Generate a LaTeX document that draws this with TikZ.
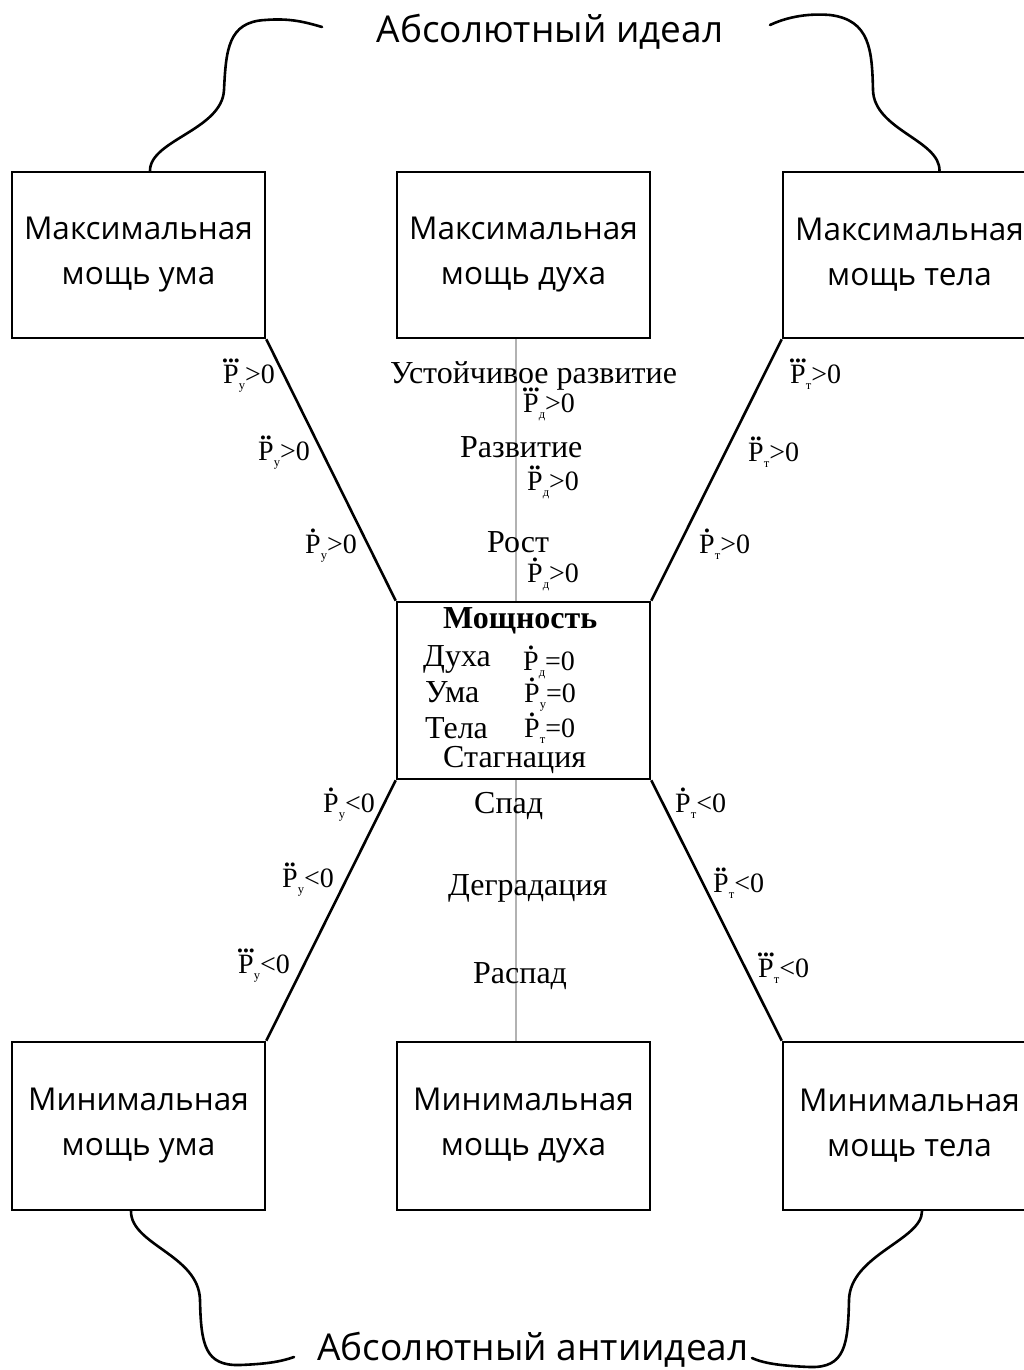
\documentclass[tikz,border=0pt]{standalone}
\usepackage{fontspec}
\usepackage{graphicx}
\setmainfont{Liberation Serif}
\newfontfamily\handfont{Open Sans}
\usetikzlibrary{positioning}

% P with dots on top, a small index and the relation
\newcommand{\Pd}[3]{\ooalign{P\cr\hidewidth\raisebox{.6em}{\scalebox{.6}{#1}}\hidewidth\cr}\raisebox{-.22em}{\scalebox{.45}{#2}}#3}

\begin{document}
\begin{tikzpicture}[x=1pt, y=-1pt,
    box/.style={draw, line width=2.6pt, minimum width=253pt, minimum height=166pt,
                inner sep=0pt, align=center, font=\handfont\fontsize{31.5}{45}\selectfont},
    word/.style={anchor=base west, inner sep=0pt, font=\fontsize{32}{36}\selectfont},
    deriv/.style={anchor=base west, inner sep=0pt, font=\fontsize{28}{30}\selectfont},
    title/.style={anchor=base, inner sep=0pt, font=\handfont\fontsize{37}{40}\selectfont},
    link/.style={line width=2.6pt},
    axis/.style={line width=2pt, color=black!30},
    brace/.style={line width=2.6pt, line cap=round}]
    \useasboundingbox (0,0) rectangle (1024,1370);

    % boxes
    \node[box] (maxum)   at (138.5,255) {Максимальная\\мощь ума};
    \node[box] (maxduh)  at (523.5,255) {Максимальная\\мощь духа};
    \node[box] (maxtelo) at (909.5,255) {Максимальная\\мощь тела};
    \node[box, minimum height=177pt] (power) at (523.5,690.5) {};
    \node[box, minimum height=168pt] (minum)   at (138.5,1126) {Минимальная\\мощь ума};
    \node[box, minimum height=168pt] (minduh)  at (523.5,1126) {Минимальная\\мощь духа};
    \node[box, minimum height=168pt] (mintelo) at (909.5,1126) {Минимальная\\мощь тела};

    % lines
    \draw[axis] ([xshift=-8pt]maxduh.south) -- ([xshift=-8pt]power.north);
    \draw[axis] ([xshift=-8pt]power.south) -- ([xshift=-8pt]minduh.north);
    \draw[link] (maxum.south east) -- (power.north west);
    \draw[link] (maxtelo.south west) -- (power.north east);
    \draw[link] (power.south west) -- (minum.north east);
    \draw[link] (power.south east) -- (mintelo.north west);

    % titles and braces
    \node[title] (ideal) at (550,43) {Абсолютный идеал};
    \node[title] (antiideal) at (533,1360) {Абсолютный антиидеал};
    \draw[brace] ([xshift=11.5pt]maxum.north) .. controls (150,140) and (222,130) .. (224,90)
        .. controls (226,50) and (228,22) .. (265,20) .. controls (290,18) and (305,22) .. (322,27);
    \draw[brace] ([xshift=30pt]maxtelo.north) .. controls (940,140) and (874,130) .. (873,90)
        .. controls (872,50) and (870,20) .. (830,15) .. controls (805,13) and (785,18) .. (770,25);
    \draw[brace] ([xshift=-7.5pt]minum.south) .. controls (131,1245) and (199,1255) .. (200,1300)
        .. controls (201,1345) and (205,1366) .. (240,1365) .. controls (265,1364) and (280,1362) .. (294,1357);
    \draw[brace] ([xshift=12.5pt]mintelo.south) .. controls (922,1240) and (850,1255) .. (849,1300)
        .. controls (848,1345) and (845,1368) .. (810,1367) .. controls (785,1366) and (765,1364) .. (752,1358);

    % middle column
    \node[word] (sustain) at (390,383) {Устойчивое развитие};
    \node[word] (develop) at (460,457) {Развитие};
    \node[word] (growth)  at (487,552) {Рост};
    \node[word, font=\fontsize{32}{36}\selectfont\bfseries] (power title) at (443,628) {Мощность};
    \node[word] (duh)  at (423,666) {Духа};
    \node[word] (um)   at (425,702) {Ума};
    \node[word] (telo) at (425,738) {Тела};
    \node[word] (stag) at (443,767) {Стагнация};
    \node[word] (fall)    at (474,813) {Спад};
    \node[word] (degrade) at (448,895) {Деградация};
    \node[word] (decay)   at (473,983) {Распад};

    \node[deriv] (pd0) at (523,670) {\Pd{•}{д}{=0}};
    \node[deriv] (pu0) at (524,702) {\Pd{•}{у}{=0}};
    \node[deriv] (pt0) at (524,737) {\Pd{•}{т}{=0}};

    % derivative labels
    \foreach \dd/\xx/\yy [count=\i] in {•••/523/412, ••/527/490, •/527/582}
        \node[deriv] (duh\i) at (\xx,\yy) {\Pd{\dd}{д}{>0}};
    \foreach \dd/\xx/\yy [count=\i] in {•••/223/383, ••/258/460, •/305/553}
        \node[deriv] (umup\i) at (\xx,\yy) {\Pd{\dd}{у}{>0}};
    \foreach \dd/\xx/\yy [count=\i] in {•••/790/383, ••/748/461, •/699/553}
        \node[deriv] (teloup\i) at (\xx,\yy) {\Pd{\dd}{т}{>0}};
    \foreach \dd/\xx/\yy [count=\i] in {•/323/812, ••/282/887, •••/238/973}
        \node[deriv] (umdown\i) at (\xx,\yy) {\Pd{\dd}{у}{<0}};
    \foreach \dd/\xx/\yy [count=\i] in {•/675/812, ••/713/892, •••/758/977}
        \node[deriv] (telodown\i) at (\xx,\yy) {\Pd{\dd}{т}{<0}};
\end{tikzpicture}
\end{document}
